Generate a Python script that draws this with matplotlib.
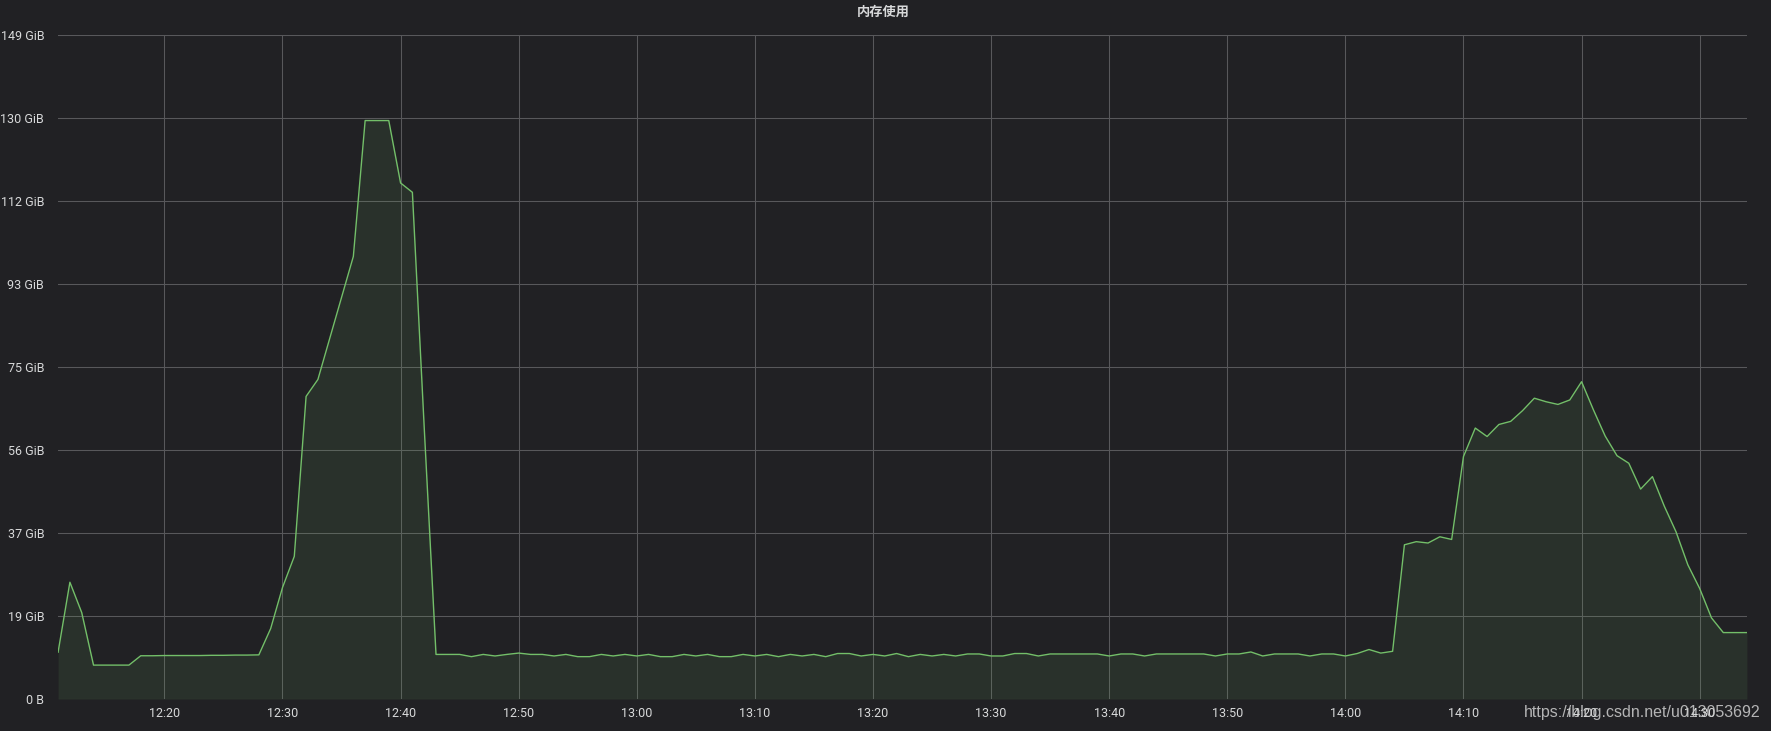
import matplotlib.pyplot as plt
import matplotlib.dates as mdates
import pandas as pd
import numpy as np

# 内存使用, GiB, 每分钟一个点 (12:11 - 14:34)
START = "2020-01-01 12:11"
mem_gib = [
    10.5, 26.2, 19.4, 7.6, 7.6, 7.6, 7.6, 9.7, 9.7, 9.75,
    9.75, 9.75, 9.75, 9.8, 9.8, 9.85, 9.85, 9.9, 15.8, 25.0,
    32.0, 67.9, 71.7, 80.9, 90.1, 99.3, 129.8, 129.8, 129.8, 115.8,
    113.7, 61.0, 10.0, 10.0, 10.0, 9.5, 10.0, 9.65, 10.0, 10.3,
    10.0, 10.0, 9.65, 10.0, 9.5, 9.5, 10.0, 9.65, 10.0, 9.65,
    10.0, 9.5, 9.5, 10.0, 9.65, 10.0, 9.5, 9.5, 10.0, 9.65,
    10.0, 9.5, 10.0, 9.65, 10.0, 9.5, 10.2, 10.2, 9.65, 10.0,
    9.65, 10.2, 9.5, 10.0, 9.65, 10.0, 9.65, 10.1, 10.1, 9.65,
    9.65, 10.2, 10.2, 9.65, 10.1, 10.1, 10.1, 10.1, 10.1, 9.65,
    10.1, 10.1, 9.65, 10.1, 10.1, 10.1, 10.1, 10.1, 9.65, 10.1,
    10.1, 10.55, 9.65, 10.1, 10.1, 10.1, 9.65, 10.1, 10.1, 9.65,
    10.2, 11.1, 10.3, 10.7, 34.6, 35.3, 35.0, 36.4, 35.8, 54.4,
    60.8, 58.9, 61.6, 62.3, 64.7, 67.5, 66.7, 66.1, 67.1, 71.2,
    64.9, 59.0, 54.6, 52.9, 47.1, 49.9, 43.3, 37.5, 30.1, 24.8,
    18.2, 14.9, 14.9, 14.9,
]
y_ticks = [0, 18.625, 37.25, 55.875, 74.5, 93.125, 111.75, 130.375, 149]
y_labels = ["0 B", "19 GiB", "37 GiB", "56 GiB", "75 GiB", "93 GiB", "112 GiB", "130 GiB", "149 GiB"]

times = pd.date_range(START, periods=len(mem_gib), freq="1min")

BG = "#212124"
GRID = "#58585b"
TXT = "#d8d9da"
GREEN = "#73bf69"
FONT = ["Roboto", "Noto Sans CJK SC", "DejaVu Sans"]

plt.rcParams["font.family"] = FONT

fig = plt.figure(figsize=(17.71, 7.31), dpi=100, facecolor=BG)
ax = fig.add_axes([0.0328, 0.0438, 0.9536, 0.9083])
ax.set_facecolor(BG)

ax.fill_between(times, mem_gib, 0, color=GREEN, alpha=0.1, linewidth=0)
ax.plot(times, mem_gib, color=GREEN, linewidth=1)

ax.set_xlim(times[0], times[-1])
ax.set_ylim(0, 149)
ax.set_yticks(y_ticks)
ax.set_yticklabels(y_labels)

xt = pd.date_range("2020-01-01 12:20", "2020-01-01 14:30", freq="10min")
ax.set_xticks(xt)
ax.xaxis.set_major_formatter(mdates.DateFormatter("%H:%M"))

ax.grid(True, color=GRID, linewidth=0.75)
ax.set_axisbelow(True)
for s in ax.spines.values():
    s.set_visible(False)
ax.tick_params(axis="both", length=0, colors=TXT, labelsize=9)
ax.tick_params(axis="y", pad=10)
ax.tick_params(axis="x", pad=6)

fig.text(0.4985, 0.983, "内存使用", ha="center", va="center", color=TXT,
         fontsize=9.5, fontweight="bold", family=FONT)

# 水印
fig.text(0.9938, 0.0192, "https://blog.csdn.net/u013053692", ha="right",
         va="baseline", color="#cfcfcf", alpha=0.85, fontsize=11.5,
         family=["Liberation Sans", "DejaVu Sans"])

fig.savefig("out.png", dpi=100, facecolor=BG)
